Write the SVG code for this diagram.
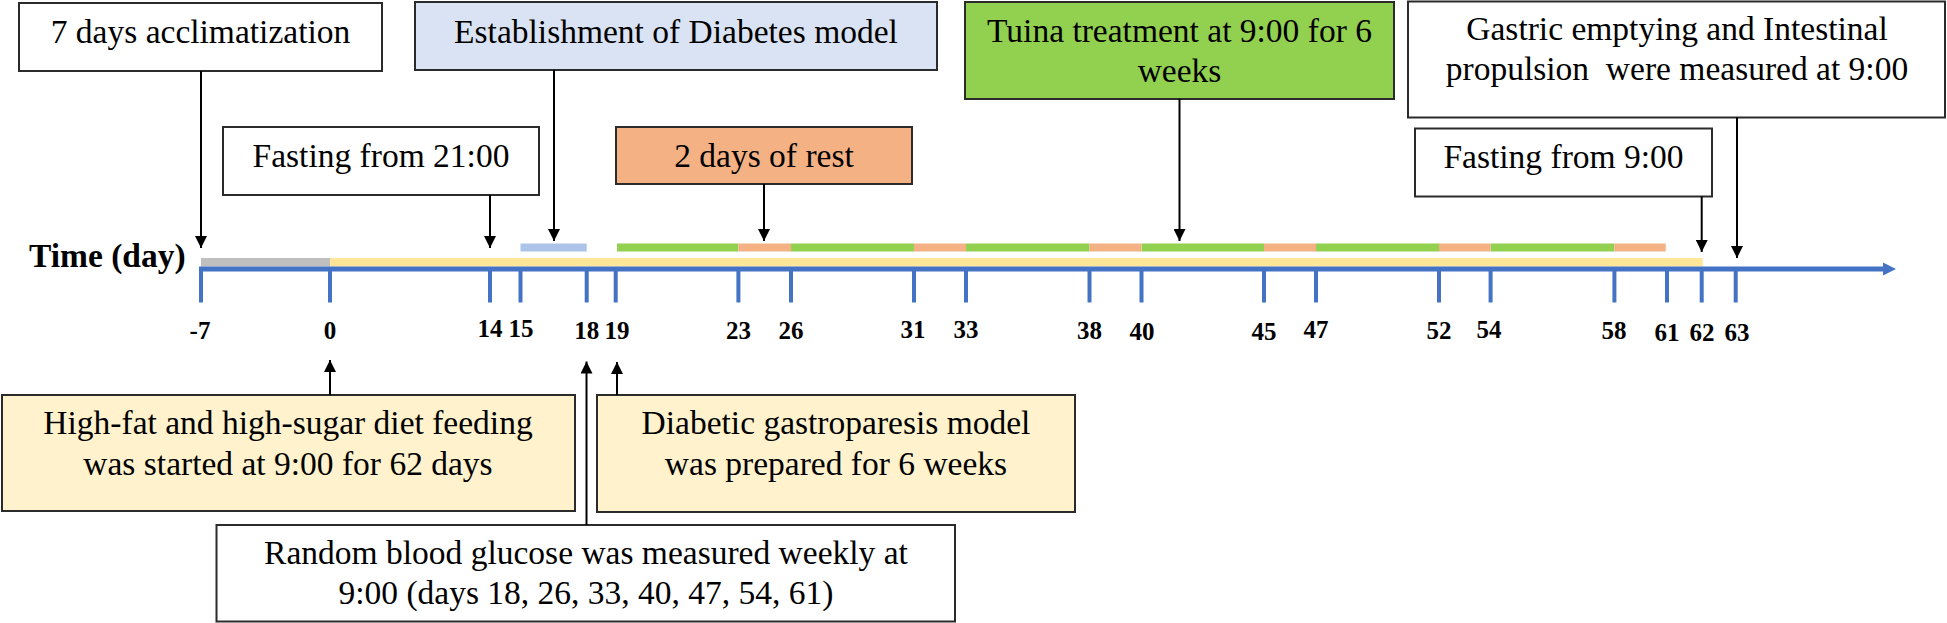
<svg xmlns="http://www.w3.org/2000/svg" width="1947" height="623" viewBox="0 0 1947 623">
<style>
  .box { stroke: #2b2b2b; stroke-width: 2; }
  .t { font-family: "Liberation Serif", "Times New Roman", serif; font-size: 33.5px; fill: #000; text-anchor: middle; }
  .lbl { font-family: "Liberation Serif", "Times New Roman", serif; font-size: 25px; font-weight: bold; fill: #000; text-anchor: middle; }
  .title { font-family: "Liberation Serif", "Times New Roman", serif; font-size: 33.5px; font-weight: bold; fill: #000; }
  .conn { stroke: #000; stroke-width: 2; fill: none; marker-end: url(#ah); }
  .tick { stroke: #4472c4; stroke-width: 4; }
  .white { fill: #ffffff; }
  .blue { fill: #dae3f3; }
  .green { fill: #92d050; }
  .orange { fill: #f4b183; }
  .cream { fill: #fff2cc; }
</style>
<defs>
  <marker id="ah" markerUnits="userSpaceOnUse" markerWidth="12" markerHeight="12" refX="12" refY="6" orient="auto">
    <path d="M0,0 L12,6 L0,12 z" fill="#000"/>
  </marker>
  <marker id="axh" markerUnits="userSpaceOnUse" markerWidth="14" markerHeight="14" refX="1" refY="7" orient="auto">
    <path d="M0,0.5 L13,7 L0,13.5 z" fill="#4472c4"/>
  </marker>
</defs>
<rect x="0" y="0" width="1947" height="623" fill="#ffffff"/>

<g id="timeline">
  <text class="title" x="29" y="267">Time (day)</text>
  <rect x="201" y="258" width="129" height="8.5" fill="#bfbfbf"/>
  <rect x="330" y="258" width="1372.7" height="8.5" fill="#ffe699"/>
  <rect x="520.5" y="243.5" width="66.2" height="8" fill="#adc3e8"/>
  <g class="green">
    <rect x="617" y="243.5" width="121.4" height="8"/>
    <rect x="791" y="243.5" width="123" height="8"/>
    <rect x="966" y="243.5" width="123.5" height="8"/>
    <rect x="1141.5" y="243.5" width="122.5" height="8"/>
    <rect x="1316" y="243.5" width="123" height="8"/>
    <rect x="1490.6" y="243.5" width="123.8" height="8"/>
  </g>
  <g class="orange">
    <rect x="738.4" y="243.5" width="52.6" height="8"/>
    <rect x="914" y="243.5" width="52" height="8"/>
    <rect x="1089.5" y="243.5" width="52" height="8"/>
    <rect x="1264" y="243.5" width="52" height="8"/>
    <rect x="1439" y="243.5" width="51.6" height="8"/>
    <rect x="1614.4" y="243.5" width="51.3" height="8"/>
  </g>
  <line x1="199" y1="269" x2="1884" y2="269" stroke="#4472c4" stroke-width="5" marker-end="url(#axh)"/>
  <g>
    <line class="tick" x1="201" y1="269" x2="201" y2="302.5"/>
    <line class="tick" x1="330" y1="269" x2="330" y2="302.5"/>
    <line class="tick" x1="490" y1="269" x2="490" y2="302.5"/>
    <line class="tick" x1="520.5" y1="269" x2="520.5" y2="302.5"/>
    <line class="tick" x1="586.7" y1="269" x2="586.7" y2="302.5"/>
    <line class="tick" x1="615.7" y1="269" x2="615.7" y2="302.5"/>
    <line class="tick" x1="738.4" y1="269" x2="738.4" y2="302.5"/>
    <line class="tick" x1="791" y1="269" x2="791" y2="302.5"/>
    <line class="tick" x1="914" y1="269" x2="914" y2="302.5"/>
    <line class="tick" x1="966" y1="269" x2="966" y2="302.5"/>
    <line class="tick" x1="1089.5" y1="269" x2="1089.5" y2="302.5"/>
    <line class="tick" x1="1141.5" y1="269" x2="1141.5" y2="302.5"/>
    <line class="tick" x1="1264" y1="269" x2="1264" y2="302.5"/>
    <line class="tick" x1="1316" y1="269" x2="1316" y2="302.5"/>
    <line class="tick" x1="1439" y1="269" x2="1439" y2="302.5"/>
    <line class="tick" x1="1490.6" y1="269" x2="1490.6" y2="302.5"/>
    <line class="tick" x1="1614.4" y1="269" x2="1614.4" y2="302.5"/>
    <line class="tick" x1="1667" y1="269" x2="1667" y2="302.5"/>
    <line class="tick" x1="1701.7" y1="269" x2="1701.7" y2="302.5"/>
    <line class="tick" x1="1735.7" y1="269" x2="1735.7" y2="302.5"/>
  </g>
  <g>
    <text class="lbl" x="200" y="339">-7</text>
    <text class="lbl" x="330" y="339">0</text>
    <text class="lbl" x="490" y="337">14</text>
    <text class="lbl" x="521" y="337">15</text>
    <text class="lbl" x="586.7" y="339">18</text>
    <text class="lbl" x="617" y="339">19</text>
    <text class="lbl" x="738.4" y="339">23</text>
    <text class="lbl" x="791" y="339">26</text>
    <text class="lbl" x="913" y="338">31</text>
    <text class="lbl" x="966" y="338">33</text>
    <text class="lbl" x="1089.5" y="339">38</text>
    <text class="lbl" x="1142" y="340">40</text>
    <text class="lbl" x="1264" y="340">45</text>
    <text class="lbl" x="1316" y="338">47</text>
    <text class="lbl" x="1439" y="339">52</text>
    <text class="lbl" x="1489" y="338">54</text>
    <text class="lbl" x="1614" y="339">58</text>
    <text class="lbl" x="1667" y="340.5">61</text>
    <text class="lbl" x="1702" y="340.5">62</text>
    <text class="lbl" x="1737" y="340.5">63</text>
  </g>
</g>

<g id="acclimatization">
  <rect class="box white" x="19" y="3" width="363" height="68"/>
  <text class="t" x="200.5" y="43">7 days acclimatization</text>
</g>
<g id="establishment">
  <rect class="box blue" x="415" y="2" width="522" height="68"/>
  <text class="t" x="676" y="43">Establishment of Diabetes model</text>
</g>
<g id="tuina">
  <rect class="box green" x="965" y="2" width="429" height="97"/>
  <text class="t" x="1179.5" y="42">Tuina treatment at 9:00 for 6</text>
  <text class="t" x="1179.5" y="82">weeks</text>
</g>
<g id="gastric">
  <rect class="box white" x="1408" y="1.5" width="537" height="116"/>
  <text class="t" x="1677" y="40">Gastric emptying and Intestinal</text>
  <text class="t" x="1677" y="80" xml:space="preserve">propulsion  were measured at 9:00</text>
</g>
<g id="fasting21">
  <rect class="box white" x="223" y="127" width="316" height="68"/>
  <text class="t" x="381" y="167">Fasting from 21:00</text>
</g>
<g id="rest">
  <rect class="box orange" x="616" y="127" width="296" height="57"/>
  <text class="t" x="764" y="167">2 days of rest</text>
</g>
<g id="fasting9">
  <rect class="box white" x="1415" y="128.5" width="297" height="68"/>
  <text class="t" x="1563.5" y="168">Fasting from 9:00</text>
</g>
<g id="diet">
  <rect class="box cream" x="2" y="395" width="573" height="116"/>
  <text class="t" x="288" y="434">High-fat and high-sugar diet feeding</text>
  <text class="t" x="288" y="475">was started at 9:00 for 62 days</text>
</g>
<g id="gastroparesis">
  <rect class="box cream" x="597" y="395" width="478" height="117"/>
  <text class="t" x="836" y="434">Diabetic gastroparesis model</text>
  <text class="t" x="836" y="475">was prepared for 6 weeks</text>
</g>
<g id="glucose">
  <rect class="box white" x="216.5" y="525" width="738.5" height="96.5"/>
  <text class="t" x="586" y="563.5">Random blood glucose was measured weekly at</text>
  <text class="t" x="586" y="603.5">9:00 (days 18, 26, 33, 40, 47, 54, 61)</text>
</g>

<g id="connectors">
  <line class="conn" x1="201" y1="71" x2="201" y2="248"/>
  <line class="conn" x1="554" y1="70" x2="554" y2="241"/>
  <line class="conn" x1="490" y1="195" x2="490" y2="248"/>
  <line class="conn" x1="764" y1="184" x2="764" y2="241"/>
  <line class="conn" x1="1179.5" y1="99" x2="1179.5" y2="241"/>
  <line class="conn" x1="1701.7" y1="196.5" x2="1701.7" y2="252"/>
  <line class="conn" x1="1737" y1="117.5" x2="1737" y2="258"/>
  <line class="conn" x1="330" y1="395" x2="330" y2="360"/>
  <line class="conn" x1="586.5" y1="525" x2="586.5" y2="361.5"/>
  <line class="conn" x1="617" y1="395" x2="617" y2="362"/>
</g>
</svg>
